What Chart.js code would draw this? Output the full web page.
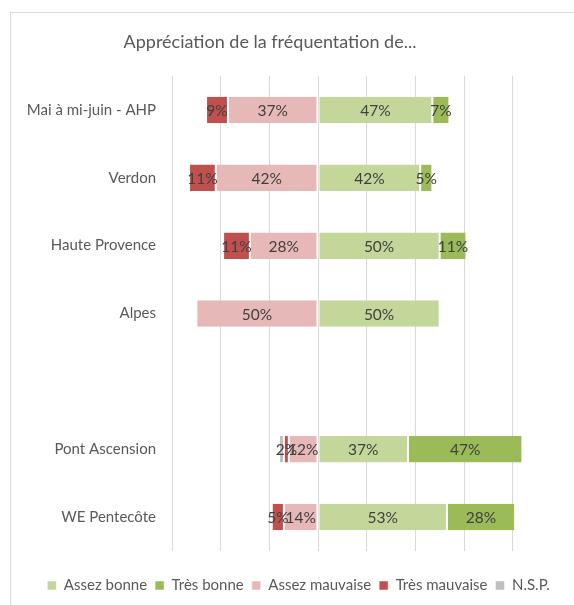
<!DOCTYPE html>
<html>
<head>
<meta charset="utf-8">
<script src="https://cdn.jsdelivr.net/npm/chart.js@4.4.1/dist/chart.umd.min.js"></script>
<style>
  html, body { margin: 0; padding: 0; background: #fff; overflow: hidden; }
  #wrap { position: relative; width: 574px; height: 605px; }
  #frame { position: absolute; left: 10px; top: 12px; width: 600px; height: 640px; border: 1px solid #d9d9d9; box-sizing: border-box; }
  canvas { position: absolute; left: 0; top: 0; }
</style>
</head>
<body>
<div id="wrap">
  <div id="frame"></div>
  <canvas id="my-chart" width="574" height="605"></canvas>
</div>
<script>
/* Appréciation de la fréquentation : barres empilées divergentes */
const titre = 'Appréciation de la fréquentation de...'
const categories = ['Mai à mi-juin - AHP', 'Verdon', 'Haute Provence', 'Alpes', '', 'Pont Ascension', 'WE Pentecôte']
const assezBonne = [47, 42, 50, 50, null, 37, 53]
const tresBonne = [7, 5, 11, 0, null, 47, 28]
const assezMauvaise = [37, 42, 28, 50, null, 12, 14]
const tresMauvaise = [9, 11, 11, 0, null, 2, 5]
const nsp = [0, 0, 0, 0, null, 2, 0]

const gris = '#595959'
const police = 'Lato, "Open Sans", sans-serif'

const neg = (arr) => arr.map((v) => (v === null ? null : -v))

// labels au centre de chaque segment
const etiquettes = {
  id: 'etiquettes',
  afterDatasetsDraw(chart) {
    const ctx = chart.ctx
    ctx.save()
    ctx.font = '15.5px ' + police
    ctx.fillStyle = '#404040'
    ctx.textAlign = 'center'
    ctx.textBaseline = 'middle'
    chart.data.datasets.forEach((ds, i) => {
      if (ds.noLabel) return
      const meta = chart.getDatasetMeta(i)
      meta.data.forEach((bar, j) => {
        const v = ds.data[j]
        if (!v) return
        const p = bar.getProps(['x', 'y', 'base'], true)
        ctx.fillText(Math.abs(v) + '%', (p.x + p.base) / 2, p.y + 1)
      })
    })
    ctx.restore()
  }
}

// titre centré sur le cadre, légende décalée comme dans Excel
const miseEnPage = {
  id: 'miseEnPage',
  afterLayout(chart) {
    chart.legend.left += 30
    chart.legend.right += 30
  },
  afterDraw(chart) {
    const ctx = chart.ctx
    ctx.save()
    ctx.font = '18px ' + police
    ctx.fillStyle = gris
    ctx.textAlign = 'center'
    ctx.textBaseline = 'middle'
    ctx.fillText(titre, 270, 42)
    ctx.restore()
  }
}

const ctx = document.getElementById('my-chart').getContext('2d')
const chart = new Chart(ctx, {
  type: 'bar',
  data: {
    labels: categories,
    datasets: [
      { label: 'Assez bonne', data: assezBonne, backgroundColor: '#c4d79b' },
      { label: 'Très bonne', data: tresBonne, backgroundColor: '#9bbb59' },
      { label: 'Assez mauvaise', data: neg(assezMauvaise), backgroundColor: '#e6b9b8' },
      { label: 'Très mauvaise', data: neg(tresMauvaise), backgroundColor: '#c0504d' },
      { label: 'N.S.P.', data: neg(nsp), backgroundColor: '#bfbfbf', noLabel: true }
    ]
  },
  options: {
    indexAxis: 'y',
    responsive: false,
    animation: false,
    datasets: {
      bar: {
        barPercentage: 0.39,
        categoryPercentage: 1,
        borderColor: '#ffffff',
        borderWidth: { left: 1, right: 1, top: 0, bottom: 0 },
        borderSkipped: false
      }
    },
    layout: { padding: { left: 0, right: 37, top: 76, bottom: 2 } },
    scales: {
      x: {
        stacked: true,
        min: -60,
        max: 90,
        ticks: { display: false, stepSize: 20, includeBounds: false },
        grid: { color: '#d9d9d9', lineWidth: 1, drawTicks: false },
        border: { display: false },
        afterFit: (s) => { s.height = 19 }
      },
      y: {
        stacked: true,
        grid: { display: false, drawTicks: false },
        border: { display: false },
        ticks: { color: gris, font: { family: police, size: 15 }, padding: 16 },
        afterFit: (s) => { s.width = 172 }
      }
    },
    plugins: {
      legend: {
        position: 'bottom',
        labels: {
          boxWidth: 9,
          boxHeight: 9,
          padding: 8,
          color: gris,
          font: { family: police, size: 15 }
        }
      },
      tooltip: { enabled: false }
    }
  },
  plugins: [etiquettes, miseEnPage]
})
</script>
</body>
</html>
